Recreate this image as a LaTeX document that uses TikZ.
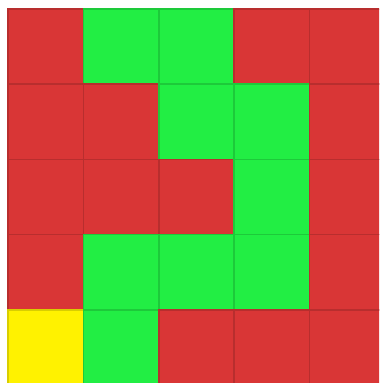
\documentclass[tikz,border=0pt]{standalone}
\usepackage{tikz}
\definecolor{blocked}{RGB}{217,54,54}
\definecolor{open}{RGB}{34,238,68}
\definecolor{start}{RGB}{255,242,0}

\begin{document}
\begin{tikzpicture}[
    x=.01cm, y=-.01cm,
    cell/.style={line width=.5pt},
]
    %% page, fixed to the reference size
    \useasboundingbox (0, 0) rectangle (379, 383);
    \clip (0, 0) rectangle (379, 383);

    %% the maze, row by row from the top
    \foreach \row/\cells in {0/{blocked,open,open,blocked,blocked},
                             1/{blocked,blocked,open,open,blocked},
                             2/{blocked,blocked,blocked,open,blocked},
                             3/{blocked,open,open,open,blocked},
                             4/{start,open,blocked,blocked,blocked}} {
        \foreach \c [count=\col from 0] in \cells {
            \filldraw[cell, fill=\c, draw=\c!85!black]
                (8+75.4*\col, 9+75.2*\row) rectangle ++(75.4, 75.2);
        }
    }
\end{tikzpicture}
\end{document}
